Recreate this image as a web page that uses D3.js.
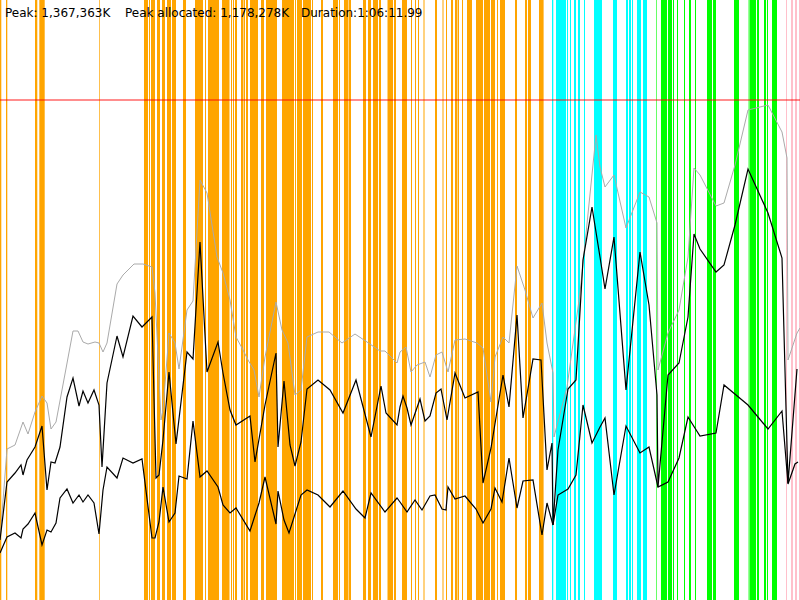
<!DOCTYPE html>
<html>
<head>
<meta charset="utf-8">
<script src="https://cdn.jsdelivr.net/npm/d3@7"></script>
<style>
  body { margin: 0; background: #fff; }
  svg { display: block; }
</style>
</head>
<body>
<svg width="800" height="600"></svg>
<script>
// time in seconds, memory in % of peak (1,367,363K)
var peakText = "Peak: 1,367,363K";
var allocText = "Peak allocated: 1,178,278K";
var durText = "Duration:1:06:11.99";
var peakLine = 100;

var orangeBands = [
  [0, 6.5], [30, 36.5], [175, 186.5], [196.5, 223.5], [495, 498.5],
  [720, 740], [745, 750], [755, 775], [785, 800], [810, 825], [835, 855], [860, 880],
  [915, 930], [975, 1015], [1025, 1030], [1040, 1095], [1110, 1145], [1147.5, 1150],
  [1155, 1160], [1165, 1170], [1175, 1185], [1205, 1215], [1217.5, 1225], [1230, 1240],
  [1250, 1290], [1305, 1320], [1330, 1385], [1410, 1470], [1475, 1480], [1485, 1510],
  [1515, 1555], [1560, 1565], [1605, 1615], [1665, 1690], [1695, 1700], [1720, 1740],
  [1742.5, 1755], [1815, 1830], [1840, 1855], [1865, 1890], [1895, 1905], [1937.5, 1945],
  [1945, 1965], [1970, 1980], [2010, 2035], [2055, 2060], [2075, 2080], [2090, 2095],
  [2117.5, 2122.5], [2175, 2185], [2212.5, 2217.5], [2230, 2235], [2255, 2265],
  [2275, 2285], [2287.5, 2295], [2310, 2315], [2335, 2360], [2380, 2415], [2420, 2450],
  [2455, 2475], [2485, 2490], [2500, 2525], [2575, 2585], [2625, 2635], [2640, 2655],
  [2695, 2718]
];
var cyanBands = [
  [2760, 2766.5], [2780, 2830], [2835, 2840], [2850, 2855], [2870, 2880], [2890, 2900],
  [2920, 2925], [2970, 3010], [3065, 3085], [3130, 3140], [3145, 3155], [3160, 3165],
  [3185, 3205], [3215, 3235]
];
var greenBands = [
  [3281, 3284], [3305, 3335], [3340, 3360], [3365, 3370], [3385, 3390], [3420, 3425],
  [3445, 3455], [3475, 3480], [3535, 3560], [3565, 3580], [3670, 3695], [3743, 3748],
  [3750, 3780], [3785, 3795], [3820, 3830], [3835, 3840], [3860, 3885]
];
var pinkBands = [
  [3930, 3935], [3955, 3965], [3975, 3985], [3995, 4000]
];

var totalMem = [
  [0, 12], [35, 30.2], [75, 31], [115, 35.6], [140, 33.2], [175, 37.6], [210, 40.8],
  [235, 39.4], [255, 34.2], [280, 35.6], [310, 42], [365, 53.8], [390, 53.8], [415, 51.6],
  [440, 51.2], [475, 51.6], [495, 51.4], [515, 49.6], [535, 51.4], [585, 63.2], [615, 65],
  [670, 67.2], [715, 67.2], [760, 66.6], [775, 61.4], [805, 36], [815, 38], [845, 53.4],
  [875, 51.4], [895, 46.2], [935, 58], [965, 59.8], [1000, 84], [1035, 81.4], [1085, 68.6],
  [1115, 65.4], [1150, 60], [1180, 52.6], [1210, 50.4], [1240, 48], [1270, 46],
  [1295, 40.6], [1325, 48.6], [1380, 59.6], [1410, 54], [1440, 51.4], [1475, 41],
  [1505, 42], [1535, 52.6], [1590, 53.6], [1645, 53.6], [1710, 51.4], [1775, 53.2],
  [1835, 51.6], [1900, 49.8], [1925, 49.8], [1985, 47.4], [2000, 49.6], [2030, 50.6],
  [2055, 45.6], [2085, 47], [2125, 47.6], [2150, 44.6], [2180, 49], [2210, 49.6],
  [2240, 45.6], [2275, 52], [2325, 52.2], [2385, 51.4], [2415, 50.4], [2455, 39.6],
  [2475, 48.6], [2515, 52.6], [2545, 51.4], [2585, 66.8], [2625, 62], [2665, 56.4],
  [2710, 59.4], [2735, 51.4], [2765, 45.4], [2770, 32.6], [2835, 42.6], [2900, 61.4],
  [2980, 93], [3000, 86.6], [3025, 82.6], [3070, 85], [3130, 74.4], [3200, 81.6],
  [3245, 80.6], [3285, 75.4], [3290, 46], [3340, 53.4], [3395, 58], [3440, 68.6],
  [3470, 86.4], [3500, 85], [3580, 78.8], [3620, 79.4], [3675, 87], [3740, 98],
  [3840, 99], [3910, 93.6], [3935, 88.4], [3940, 48], [3985, 53.4], [4000, 54.4]
];

var allocMem = [
  [0, 12], [35, 23.6], [75, 25.4], [105, 27], [115, 25], [135, 28], [175, 30.6],
  [210, 34.8], [235, 22], [255, 27.6], [275, 27.4], [300, 30.6], [335, 40.6], [365, 44.4],
  [395, 38.8], [415, 41.8], [440, 39.4], [470, 42], [495, 39], [510, 26.6], [535, 43.4],
  [585, 52.8], [615, 48.6], [665, 56.8], [710, 54.6], [760, 56.6], [780, 24.4], [795, 25],
  [815, 32], [845, 45.6], [880, 31.2], [935, 49.6], [965, 48.2], [1000, 71.6], [1035, 45.6],
  [1090, 51.6], [1115, 45.4], [1150, 38], [1180, 35], [1250, 36.8], [1275, 27.6],
  [1325, 39], [1380, 49.4], [1390, 30.6], [1420, 43.8], [1450, 31], [1475, 26.8],
  [1505, 31.6], [1535, 42.2], [1590, 44], [1650, 42], [1715, 37.4], [1780, 44],
  [1855, 32.6], [1905, 42.8], [1930, 37.4], [1985, 35], [2000, 38.6], [2015, 40.8],
  [2035, 38.4], [2055, 35], [2100, 40.2], [2125, 35.8], [2150, 36.8], [2180, 41.4],
  [2205, 42.2], [2235, 36], [2275, 45.4], [2325, 40.4], [2390, 41.6], [2415, 23.4],
  [2455, 30.4], [2515, 45], [2545, 38.6], [2585, 57], [2615, 36.4], [2665, 48.2],
  [2705, 48], [2735, 26], [2760, 31.4], [2765, 15], [2790, 30], [2840, 42.2], [2880, 44],
  [2915, 68], [2960, 78.6], [3000, 68.6], [3025, 62.2], [3070, 72.6], [3130, 42],
  [3200, 69.6], [3245, 59], [3285, 41], [3290, 22.6], [3340, 45], [3395, 47.4],
  [3440, 56.6], [3470, 73.2], [3500, 70.2], [3580, 65.6], [3620, 67], [3675, 75],
  [3740, 86.2], [3840, 77.4], [3910, 68.4], [3940, 23.4], [3985, 46.2]
];

var liveMem = [
  [0, 9.4], [35, 12.6], [75, 13.4], [105, 12.4], [115, 14.2], [140, 15.2], [175, 17.4],
  [210, 11], [235, 14], [255, 13.6], [280, 15.4], [300, 20.4], [335, 22.2], [365, 19.4],
  [395, 21], [415, 19.6], [440, 21], [470, 19.4], [495, 13.2], [515, 22], [535, 26.6],
  [585, 24.4], [615, 28.4], [665, 27.4], [710, 28.2], [760, 12.4], [775, 12.4],
  [795, 15.6], [815, 22.6], [845, 15.6], [875, 17.4], [895, 24.8], [935, 24.2],
  [965, 35.8], [1000, 24.6], [1035, 25.8], [1090, 22.6], [1115, 19], [1150, 17.4],
  [1180, 18.4], [1250, 13.8], [1295, 19.4], [1325, 24.6], [1380, 15.2], [1390, 21.8],
  [1420, 16], [1445, 13.4], [1505, 21], [1535, 22], [1590, 21], [1650, 18.6],
  [1715, 21.8], [1780, 18.2], [1825, 16.4], [1855, 21.4], [1925, 17.6], [1985, 20.4],
  [2000, 19.6], [2035, 17.6], [2075, 20], [2110, 18], [2150, 20.8], [2175, 21],
  [2210, 18.2], [2230, 18], [2240, 22.6], [2275, 20.2], [2325, 20.8], [2380, 18.2],
  [2415, 15.4], [2455, 18.2], [2475, 22.4], [2510, 19.6], [2545, 28.4], [2585, 18.4],
  [2615, 23.8], [2665, 24], [2710, 13], [2735, 19.4], [2765, 15], [2790, 21],
  [2840, 22.2], [2880, 25], [2915, 39], [2960, 31.4], [3000, 34.6], [3025, 36.4],
  [3070, 21], [3130, 34.8], [3200, 29.4], [3245, 30.6], [3290, 22.6], [3340, 23.6],
  [3395, 28.4], [3440, 36.6], [3500, 32.8], [3580, 33.4], [3620, 43], [3740, 39],
  [3840, 34.2], [3910, 37.8], [3940, 23.2], [3975, 27.2], [3990, 27.6]
];

var svg = d3.select("svg"),
  width = +svg.attr("width"),
  height = +svg.attr("height");

var x = d3.scaleLinear().domain([0, 4000]).range([0, width]);
var y = d3.scaleLinear().domain([0, 120]).range([height, 0]);

function drawBands(bands, color) {
  svg.append("g").selectAll("rect").data(bands)
    .enter().append("rect")
    .attr("x", function (d) { return x(d[0]) })
    .attr("width", function (d) { return x(d[1]) - x(d[0]) })
    .attr("y", 0)
    .attr("height", height)
    .attr("fill", color);
}

drawBands(orangeBands, "#ffa500");
drawBands(cyanBands, "#00ffff");
drawBands(greenBands, "#00ff00");
drawBands(pinkBands, "#ffc0cb");

svg.append("line")
  .attr("x1", 0).attr("x2", width)
  .attr("y1", y(peakLine)).attr("y2", y(peakLine))
  .attr("stroke", "#ff0000")
  .attr("stroke-opacity", 0.6)
  .attr("stroke-width", 1.5);

var line = d3.line()
  .x(function (d) { return x(d[0]) })
  .y(function (d) { return y(d[1]) });

svg.append("path").datum(totalMem)
  .attr("d", line).attr("fill", "none")
  .attr("stroke", "#aaaaaa").attr("stroke-width", 1);

svg.append("path").datum(allocMem)
  .attr("d", line).attr("fill", "none")
  .attr("stroke", "#000").attr("stroke-width", 1.2);

svg.append("path").datum(liveMem)
  .attr("d", line).attr("fill", "none")
  .attr("stroke", "#000").attr("stroke-width", 1.2);

var labels = svg.append("g")
  .attr("font-family", "DejaVu Sans, sans-serif")
  .attr("font-size", 12)
  .attr("fill", "#000");

labels.append("text").attr("x", 5).attr("y", 17).text(peakText);
labels.append("text").attr("x", 125).attr("y", 17).text(allocText);
labels.append("text").attr("x", 301).attr("y", 17).text(durText);
</script>
</body>
</html>
